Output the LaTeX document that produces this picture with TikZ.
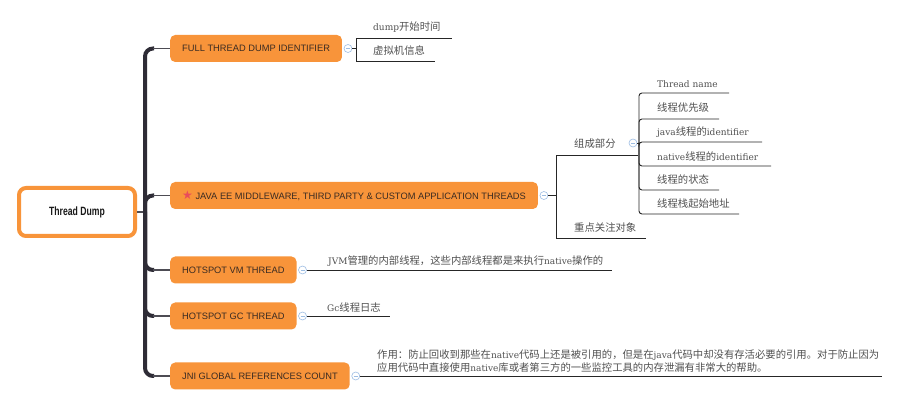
\documentclass[tikz,border=0pt]{standalone}
\usepackage{fontspec}
\setmainfont{DejaVu Serif}
\newfontfamily\cjk[Scale=1.15]{Noto Sans CJK SC}
\newfontfamily\capsfont{Liberation Sans}
\newfontfamily\rootfont[FakeStretch=0.72]{Liberation Sans Bold}
\newfontfamily\symfont{DejaVu Sans}
\newcommand\zh[1]{{\cjk #1}}
\usetikzlibrary{positioning}
\definecolor{mindorange}{HTML}{F8943A}
\definecolor{trunkgray}{HTML}{2E2C36}
\definecolor{leafgray}{HTML}{505050}
\definecolor{foldblue}{HTML}{9DBDE3}
\definecolor{starred}{HTML}{E94B5B}
\definecolor{captext}{HTML}{3A2B22}

\begin{document}
\begin{tikzpicture}[x=1pt,y=-1pt,
  rootbox/.style={draw=mindorange,line width=4pt,fill=white,rounded corners=7pt,
    minimum width=116pt,minimum height=48pt,font=\rootfont\fontsize{12}{14}\selectfont,text=black!90},
  topic/.style={fill=mindorange,rounded corners=5pt,minimum height=27pt,inner xsep=12pt,
    anchor=west,font=\capsfont\fontsize{9.3}{11}\selectfont,text=captext},
  fold/.style={circle,draw=foldblue,fill=white,minimum size=8pt,inner sep=0pt,line width=0.6pt,
    path picture={\draw[foldblue,line width=0.6pt]
      ([xshift=-2pt]path picture bounding box.center) -- ([xshift=2pt]path picture bounding box.center);}},
  leaf/.style={anchor=west,inner sep=0pt,font=\fontsize{9}{12.5}\selectfont,text=leafgray},
  trunk/.style={draw=trunkgray,line width=4pt,rounded corners=8pt},
  twig/.style={draw=trunkgray!85,line width=1.2pt},
  subline/.style={draw=black!85,line width=0.9pt},
]
\fill[white] (0,0) rectangle (898,406);
\useasboundingbox (0,0) rectangle (898,406);
%
\node[rootbox] (root) at (77,212) {Thread Dump};
\coordinate (hub) at (145,212);
%
\node[topic] (b1) at (170,48.5) {FULL THREAD DUMP IDENTIFIER};
\node[topic] (b2) at (170,195.5) {{\symfont\fontsize{12}{11}\selectfont\color{starred}\raisebox{-0.3pt}{★}}\;JAVA EE MIDDLEWARE, THIRD PARTY \& CUSTOM APPLICATION THREADS};
\node[topic] (b3) at (170,270) {HOTSPOT VM THREAD};
\node[topic] (b4) at (170,316) {HOTSPOT GC THREAD};
\node[topic] (b5) at (170,376) {JNI GLOBAL REFERENCES COUNT};
%
\draw[twig] (root) -- (hub);
\foreach \b in {b1,b2,b3,b4,b5}{
  \draw[trunk] (hub) |- ([xshift=-16pt]\b.west);
  \draw[twig] ([xshift=-17pt]\b.west) -- (\b.west);
}
%
\node[fold, right=1.5pt of b1] (c1) {};
\node[fold, right=1.5pt of b2] (c2) {};
\node[fold, right=1.5pt of b3] (c3) {};
\node[fold, right=1.5pt of b4] (c4) {};
\node[fold, right=1.5pt of b5] (c5) {};
%
\node[leaf] (d1) at (373,27) {dump\zh{开始时间}};
\node[leaf] (d2) at (373,51) {\zh{虚拟机信息}};
\coordinate (j1) at (356,48.5);
\coordinate (u1) at (452,38);
\coordinate (u2) at (435,61);
\draw[subline] (c1) -- (j1) |- (u1);
\draw[subline] (j1) |- (u2);
%
\node[leaf] (p1) at (574,144) {\zh{组成部分}};
\node[leaf] (p2) at (574,228) {\zh{重点关注对象}};
\coordinate (j2) at (556,195.5);
\coordinate (u3) at (638,155);
\coordinate (u4) at (646,238);
\draw[subline] (c2) -- (j2) |- (u3);
\draw[subline] (j2) |- (u4);
%
\node[fold] (c21) at (633,143) {};
\coordinate (j21) at (639,143);
\draw[subline] (c21) -- (j21);
\node[leaf] (q1) at (657,84) {Thread name};
\node[leaf] (q2) at (657,108) {\zh{线程优先级}};
\node[leaf] (q3) at (657,132) {java\zh{线程的}identifier};
\node[leaf] (q4) at (657,156.5) {native\zh{线程的}identifier};
\node[leaf] (q5) at (657,180) {\zh{线程的状态}};
\node[leaf] (q6) at (657,204) {\zh{线程栈起始地址}};
\coordinate (v1) at (729,93);
\coordinate (v2) at (719,119);
\coordinate (v3) at (762,142);
\coordinate (v4) at (771,166);
\coordinate (v5) at (719,190);
\coordinate (v6) at (739,214);
\draw[subline, rounded corners=3pt] (j21) |- (v1);
\draw[subline, rounded corners=3pt] (j21) |- (v2);
\draw[subline, rounded corners=3pt] (j21) |- (v3);
\draw[subline, rounded corners=3pt] (j21) |- (v4);
\draw[subline, rounded corners=3pt] (j21) |- (v5);
\draw[subline, rounded corners=3pt] (j21) |- (v6);
%
\node[leaf] (h1) at (328,261.5) {JVM\zh{管理的内部线程，这些内部线程都是来执行}native\zh{操作的}};
\coordinate (u5) at (612,270);
\draw[subline] (c3) -- (u5);
%
\node[leaf] (g1) at (327,307.5) {Gc\zh{线程日志}};
\coordinate (u6) at (390,316);
\draw[subline] (c4) -- (u6);
%
\node[leaf, align=left] (n1) at (377,361) {\zh{作用：防止回收到那些在}native\zh{代码上还是被引用的，但是在}java\zh{代码中却没有存活必要的引用。对于防止因为}\\
  \zh{应用代码中直接使用}native\zh{库或者第三方的一些监控工具的内存泄漏有非常大的帮助。}};
\coordinate (u7) at (882,376);
\draw[subline] (c5) -- (u7);
\end{tikzpicture}
\end{document}
